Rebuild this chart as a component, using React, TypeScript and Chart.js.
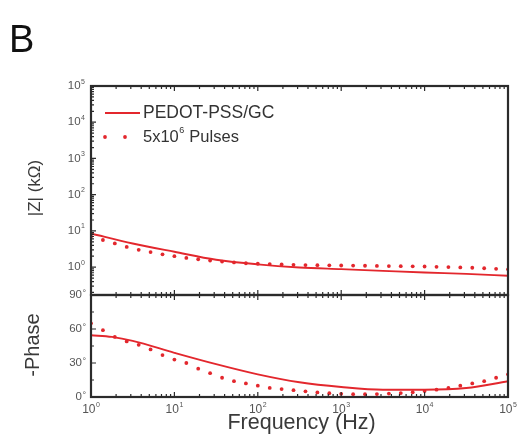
import React, { useEffect, useRef } from 'react';
import { Chart, registerables } from 'chart.js';
Chart.register(...registerables);

// |Z| (kΩ) — PEDOT-PSS/GC (solid line)
const zLineFreq = [1, 3.16, 10, 31.6, 100, 316, 1000, 3162, 10000, 31623, 100000];
const zLineValues = [8.5, 4.5, 2.65, 1.6, 1.19, 0.98, 0.88, 0.79, 0.71, 0.65, 0.58];

// -Phase (deg) — PEDOT-PSS/GC (solid line)
const phaseLineFreq = [1, 1.78, 3.16, 10, 31.6, 100, 316, 1000, 3162, 10000, 31623, 100000];
const phaseLineValues = [54.5, 53, 49.5, 39, 29, 20, 13, 8.8, 6.4, 6.4, 7.9, 13.9];

// 5x10^6 Pulses (dotted)
const dotFreq = [1, 1.39, 1.93, 2.68, 3.73, 5.18, 7.2, 10, 13.9, 19.3, 26.8, 37.3, 51.8, 72, 100, 139, 193, 268, 373, 518, 720, 1000, 1390, 1930, 2680, 3730, 5180, 7200, 10000, 13900, 19300, 26800, 37300, 51800, 72000, 100000];
const zDotValues = [7.0, 5.6, 4.5, 3.6, 3.0, 2.6, 2.25, 2.0, 1.8, 1.65, 1.52, 1.42, 1.35, 1.28, 1.24, 1.21, 1.18, 1.16, 1.14, 1.13, 1.12, 1.11, 1.1, 1.09, 1.08, 1.07, 1.06, 1.05, 1.04, 1.02, 1.0, 0.98, 0.96, 0.93, 0.9, 0.87];
const phaseDotValues = [65, 59, 53, 49, 46, 42, 37, 33, 30, 25, 21, 17, 14, 12, 10, 8, 7, 6, 5, 4, 3.3, 2.8, 2.5, 2.5, 2.6, 3, 3.5, 4.2, 5.2, 6.5, 8, 10, 12, 14, 17, 20];

const xTickExps = [0, 1, 2, 3, 4, 5];
const zTickExps = [0, 1, 2, 3, 4, 5];
const phaseTicks = [0, 30, 60, 90];
const phaseMinorTicks = [15, 45, 75];

const seriesNames = ['PEDOT-PSS/GC', '5x10', '6', ' Pulses'];
const titleText = 'B';
const zTitle = '|Z| (kΩ)';
const phaseTitle = '-Phase';
const xTitle = 'Frequency (Hz)';

const RED = '#e3272d';
const FRAME = '#2b2b2b';
const FONT = "'Liberation Sans', Arial, sans-serif";

const toPts = (xs: number[], ys: number[]) => xs.map((x, i) => ({ x, y: ys[i] }));

function drawPow(ctx: CanvasRenderingContext2D, base: string, exp: string, x: number, y: number, align: 'left' | 'right' | 'center', size: number, color: string) {
  ctx.save();
  ctx.fillStyle = color;
  ctx.textBaseline = 'middle';
  ctx.textAlign = 'left';
  ctx.font = `${size}px ${FONT}`;
  const wb = ctx.measureText(base).width;
  const es = Math.round(size * 0.6);
  ctx.font = `${es}px ${FONT}`;
  const we = ctx.measureText(exp).width;
  const total = wb + we + 0.5;
  let sx = x;
  if (align === 'right') sx = x - total;
  else if (align === 'center') sx = x - total / 2;
  ctx.font = `${size}px ${FONT}`;
  ctx.fillText(base, sx, y);
  ctx.font = `${es}px ${FONT}`;
  ctx.fillText(exp, sx + wb + 0.5, y - size * 0.38);
  ctx.restore();
}

const framePlugin = {
  id: 'framePlugin',
  afterDraw(chart: any) {
    const ctx: CanvasRenderingContext2D = chart.ctx;
    const xs = chart.scales.x;
    const yZ = chart.scales.yZ;
    const yP = chart.scales.yP;
    const L = chart.chartArea.left;
    const R = chart.chartArea.right;
    ctx.save();
    ctx.strokeStyle = FRAME;
    ctx.lineWidth = 1.2;

    const xMajor = xTickExps.map((e) => Math.pow(10, e));
    const xMinor: number[] = [];
    for (let e = 0; e < 5; e++) for (let m = 2; m <= 9; m++) xMinor.push(m * Math.pow(10, e));

    const panels = [yZ, yP];
    ctx.beginPath();
    for (const p of panels) {
      for (const v of xMajor) {
        const px = xs.getPixelForValue(v);
        ctx.moveTo(px, p.top); ctx.lineTo(px, p.top + 5);
        ctx.moveTo(px, p.bottom); ctx.lineTo(px, p.bottom - 5);
      }
      for (const v of xMinor) {
        const px = xs.getPixelForValue(v);
        ctx.moveTo(px, p.top); ctx.lineTo(px, p.top + 3);
        ctx.moveTo(px, p.bottom); ctx.lineTo(px, p.bottom - 3);
      }
    }
    for (const e of zTickExps) {
      const py = yZ.getPixelForValue(Math.pow(10, e));
      ctx.moveTo(L, py); ctx.lineTo(L + 5, py);
    }
    for (let e = -1; e < 5; e++) {
      for (let m = 2; m <= 9; m++) {
        const v = m * Math.pow(10, e);
        if (v < yZ.min || v > yZ.max) continue;
        const py = yZ.getPixelForValue(v);
        ctx.moveTo(L, py); ctx.lineTo(L + 3, py);
      }
    }
    for (const v of phaseTicks) {
      const py = yP.getPixelForValue(v);
      ctx.moveTo(L, py); ctx.lineTo(L + 5, py);
    }
    for (const v of phaseMinorTicks) {
      const py = yP.getPixelForValue(v);
      ctx.moveTo(L, py); ctx.lineTo(L + 3, py);
    }
    ctx.stroke();

    ctx.lineWidth = 2.2;
    for (const p of panels) {
      ctx.strokeRect(L, p.top, R - L, p.bottom - p.top);
    }

    const labelColor = '#555';
    for (const e of zTickExps) {
      drawPow(ctx, '10', String(e), L - 6, yZ.getPixelForValue(Math.pow(10, e)), 'right', 11.5, labelColor);
    }
    ctx.fillStyle = labelColor;
    ctx.textBaseline = 'middle';
    for (const v of phaseTicks) {
      const py = yP.getPixelForValue(v);
      ctx.font = `11.5px ${FONT}`;
      ctx.textAlign = 'right';
      const dw = 5;
      ctx.fillText(String(v), L - 4 - dw, py);
      ctx.font = `9px ${FONT}`;
      ctx.textAlign = 'left';
      ctx.fillText('°', L - 4 - dw + 0.5, py - 1.5);
    }
    for (const e of xTickExps) {
      drawPow(ctx, '10', String(e), xs.getPixelForValue(Math.pow(10, e)), yP.bottom + 13, 'center', 12, labelColor);
    }

    ctx.fillStyle = '#3a3a3a';
    ctx.textAlign = 'center';
    ctx.textBaseline = 'middle';
    ctx.font = `17px ${FONT}`;
    ctx.save();
    ctx.translate(35, 188);
    ctx.rotate(-Math.PI / 2);
    ctx.fillText(zTitle, 0, 0);
    ctx.restore();
    ctx.font = `20px ${FONT}`;
    ctx.save();
    ctx.translate(33, 345);
    ctx.rotate(-Math.PI / 2);
    ctx.fillText(phaseTitle, 0, 0);
    ctx.restore();
    ctx.font = `21.5px ${FONT}`;
    ctx.fillText(xTitle, (L + R) / 2 + 2, 423);

    ctx.fillStyle = '#111';
    ctx.textAlign = 'left';
    ctx.textBaseline = 'alphabetic';
    ctx.font = `38px ${FONT}`;
    ctx.fillText(titleText, 9, 52);

    const ly1 = yZ.top + 27;
    const ly2 = yZ.top + 51;
    ctx.strokeStyle = RED;
    ctx.lineWidth = 2;
    ctx.beginPath();
    ctx.moveTo(L + 14, ly1); ctx.lineTo(L + 49, ly1);
    ctx.stroke();
    ctx.fillStyle = RED;
    for (const dx of [14, 34]) {
      ctx.beginPath();
      ctx.arc(L + dx, ly2, 1.9, 0, Math.PI * 2);
      ctx.fill();
    }
    const tx = L + 52;
    ctx.fillStyle = '#333';
    ctx.textBaseline = 'middle';
    ctx.font = `17.5px ${FONT}`;
    ctx.fillText(seriesNames[0], tx, ly1);
    const t1 = seriesNames[1];
    ctx.font = `16.5px ${FONT}`;
    ctx.fillText(t1, tx, ly2);
    const w1 = ctx.measureText(t1).width;
    ctx.font = `9px ${FONT}`;
    ctx.fillText(seriesNames[2], tx + w1 + 0.5, ly2 - 6);
    const w2 = ctx.measureText(seriesNames[2]).width;
    ctx.font = `16.5px ${FONT}`;
    ctx.fillText(seriesNames[3], tx + w1 + w2 + 1, ly2);
    ctx.restore();
  },
};

export default function App() {
  const ref = useRef<HTMLCanvasElement | null>(null);
  useEffect(() => {
    document.body.style.margin = '0';
    const canvas = ref.current;
    if (!canvas) return;
    const chart = new Chart(canvas, {
      type: 'line',
      data: {
        datasets: [
          {
            label: 'PEDOT-PSS/GC |Z|',
            data: toPts(zLineFreq, zLineValues),
            yAxisID: 'yZ',
            borderColor: RED,
            borderWidth: 1.9,
            pointRadius: 0,
            cubicInterpolationMode: 'monotone',
            fill: false,
          },
          {
            label: '5x10^6 Pulses |Z|',
            data: toPts(dotFreq, zDotValues),
            yAxisID: 'yZ',
            showLine: false,
            pointRadius: 1.9,
            pointBorderWidth: 0,
            pointBackgroundColor: RED,
            borderColor: RED,
          },
          {
            label: 'PEDOT-PSS/GC phase',
            data: toPts(phaseLineFreq, phaseLineValues),
            yAxisID: 'yP',
            borderColor: RED,
            borderWidth: 1.9,
            pointRadius: 0,
            cubicInterpolationMode: 'monotone',
            fill: false,
          },
          {
            label: '5x10^6 Pulses phase',
            data: toPts(dotFreq, phaseDotValues),
            yAxisID: 'yP',
            showLine: false,
            pointRadius: 1.9,
            pointBorderWidth: 0,
            pointBackgroundColor: RED,
            borderColor: RED,
          },
        ],
      },
      options: {
        responsive: false,
        animation: false,
        events: [],
        layout: { padding: { left: 91, right: 17, top: 86, bottom: 50 } },
        plugins: { legend: { display: false }, tooltip: { enabled: false }, title: { display: false } },
        scales: {
          x: { type: 'logarithmic', min: 1, max: 100000, display: false },
          yZ: {
            type: 'logarithmic',
            position: 'left',
            stack: 'panels',
            stackWeight: 209,
            weight: 2,
            min: 0.17,
            max: 100000,
            display: false,
          },
          yP: {
            type: 'linear',
            position: 'left',
            stack: 'panels',
            stackWeight: 102,
            weight: 1,
            min: 0,
            max: 90,
            display: false,
          },
        },
      },
      plugins: [framePlugin],
    } as any);
    return () => chart.destroy();
  }, []);
  return <canvas ref={ref} width={525} height={447} style={{ display: 'block' }} />;
}
